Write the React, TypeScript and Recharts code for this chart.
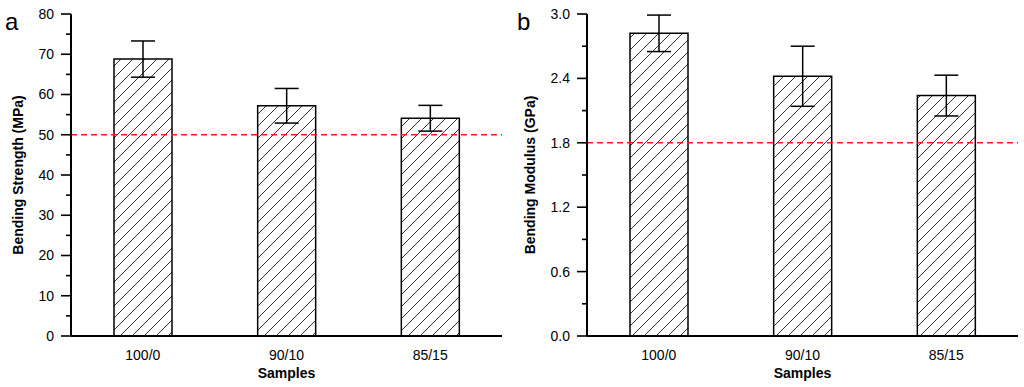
import React from 'react'
import { BarChart, Bar, XAxis, YAxis, ErrorBar, ReferenceLine } from 'recharts'

const samples = ['100/0', '90/10', '85/15']

const strength = [68.8, 57.2, 54.1]
const strengthErr = [4.5, 4.3, 3.2]
const strengthLimit = 50
const strengthTicks = [0, 5, 10, 15, 20, 25, 30, 35, 40, 45, 50, 55, 60, 65, 70, 75, 80]
const strengthLabels = [0, 10, 20, 30, 40, 50, 60, 70, 80]

const modulus = [2.82, 2.42, 2.24]
const modulusErr = [0.17, 0.28, 0.19]
const modulusLimit = 1.8
const modulusTicks = [0, 0.3, 0.6, 0.9, 1.2, 1.5, 1.8, 2.1, 2.4, 2.7, 3.0]
const modulusLabels = [0, 0.6, 1.2, 1.8, 2.4, 3.0]

const FONT = '"Liberation Sans", Arial, sans-serif'

const strengthData = samples.map((s, i) => ({ name: s, value: strength[i], err: strengthErr[i] }))
const modulusData = samples.map((s, i) => ({ name: s, value: modulus[i], err: modulusErr[i] }))

// tick with long/short marks, only majors get a label
const makeTick = (labels: number[], fmt: (v: number) => string) => (props: any) => {
  const { x, y, payload } = props
  const major = labels.includes(payload.value)
  return (
    <g>
      <line x1={x - (major ? 10 : 5)} x2={x} y1={y} y2={y} stroke="#000" strokeWidth={1.6} />
      {major && (
        <text x={x - 17} y={y} dy="0.355em" textAnchor="end" fontSize={14} fontFamily={FONT} fill="#000">
          {fmt(payload.value)}
        </text>
      )}
    </g>
  )
}

const yTitle = (text: string, bx: number) => (props: any) => {
  const { viewBox } = props
  const cy = viewBox.y + viewBox.height / 2
  return (
    <text
      x={bx}
      y={cy}
      transform={`rotate(-90, ${bx}, ${cy})`}
      textAnchor="middle"
      fontSize={14}
      fontWeight="bold"
      fontFamily={FONT}
      fill="#000"
    >
      {text}
    </text>
  )
}

const xTitle = (props: any) => {
  const { viewBox } = props
  return (
    <text
      x={viewBox.x + viewBox.width / 2}
      y={viewBox.y + 42}
      textAnchor="middle"
      fontSize={14}
      fontWeight="bold"
      fontFamily={FONT}
      fill="#000"
    >
      Samples
    </text>
  )
}

interface PanelProps {
  id: string
  letter: string
  data: { name: string; value: number; err: number }[]
  domain: [number, number]
  ticks: number[]
  labels: number[]
  fmt: (v: number) => string
  limit: number
  title: string
  axisWidth: number
  right: number
  titleX: number
}

function Panel({ id, letter, data, domain, ticks, labels, fmt, limit, title, axisWidth, right, titleX }: PanelProps) {
  return (
    <div style={{ position: 'relative', width: 512, height: 387 }}>
      <BarChart width={512} height={387} data={data} margin={{ top: 14, right, bottom: 0, left: 0 }}>
        <defs>
          <pattern id={id} patternUnits="userSpaceOnUse" width={12} height={12}>
            <path d="M0,12 L12,0 M-1,1 L1,-1 M11,13 L13,11" stroke="#333" strokeWidth={1} />
          </pattern>
        </defs>
        <XAxis
          dataKey="name"
          height={51}
          tickLine={false}
          tickSize={0}
          tickMargin={14}
          axisLine={{ stroke: '#000', strokeWidth: 2 }}
          tick={{ fill: '#000', fontSize: 14, fontFamily: FONT }}
          label={{ content: xTitle }}
        />
        <YAxis
          width={axisWidth}
          domain={domain}
          ticks={ticks}
          interval={0}
          tickLine={false}
          tickSize={0}
          tickMargin={0}
          axisLine={{ stroke: '#000', strokeWidth: 2 }}
          tick={makeTick(labels, fmt)}
          label={{ content: yTitle(title, titleX) }}
        />
        <Bar dataKey="value" barSize={58} fill={`url(#${id})`} stroke="#000" strokeWidth={1.5} isAnimationActive={false}>
          <ErrorBar dataKey="err" width={12} stroke="#000" strokeWidth={1.5} />
        </Bar>
        <ReferenceLine y={limit} stroke="#ff1a1a" strokeWidth={1.4} strokeDasharray="6 4" />
      </BarChart>
      <svg style={{ position: 'absolute', left: 0, top: 0 }} width={40} height={40}>
        <text x={5} y={30} fontSize={24} fontFamily={FONT} fill="#000">
          {letter}
        </text>
      </svg>
    </div>
  )
}

export default function App() {
  return (
    <div
      style={{
        position: 'absolute',
        left: 0,
        top: 0,
        width: 1024,
        height: 387,
        background: '#fff',
        display: 'flex',
        fontFamily: FONT,
      }}
    >
      <Panel
        id="hatchA"
        letter="a"
        data={strengthData}
        domain={[0, 80]}
        ticks={strengthTicks}
        labels={strengthLabels}
        fmt={(v) => String(v)}
        limit={strengthLimit}
        title="Bending Strength (MPa)"
        axisWidth={71}
        right={10}
        titleX={23}
      />
      <Panel
        id="hatchB"
        letter="b"
        data={modulusData}
        domain={[0, 3]}
        ticks={modulusTicks}
        labels={modulusLabels}
        fmt={(v) => v.toFixed(1)}
        limit={modulusLimit}
        title="Bending Modulus (GPa)"
        axisWidth={75}
        right={6}
        titleX={23}
      />
    </div>
  )
}
